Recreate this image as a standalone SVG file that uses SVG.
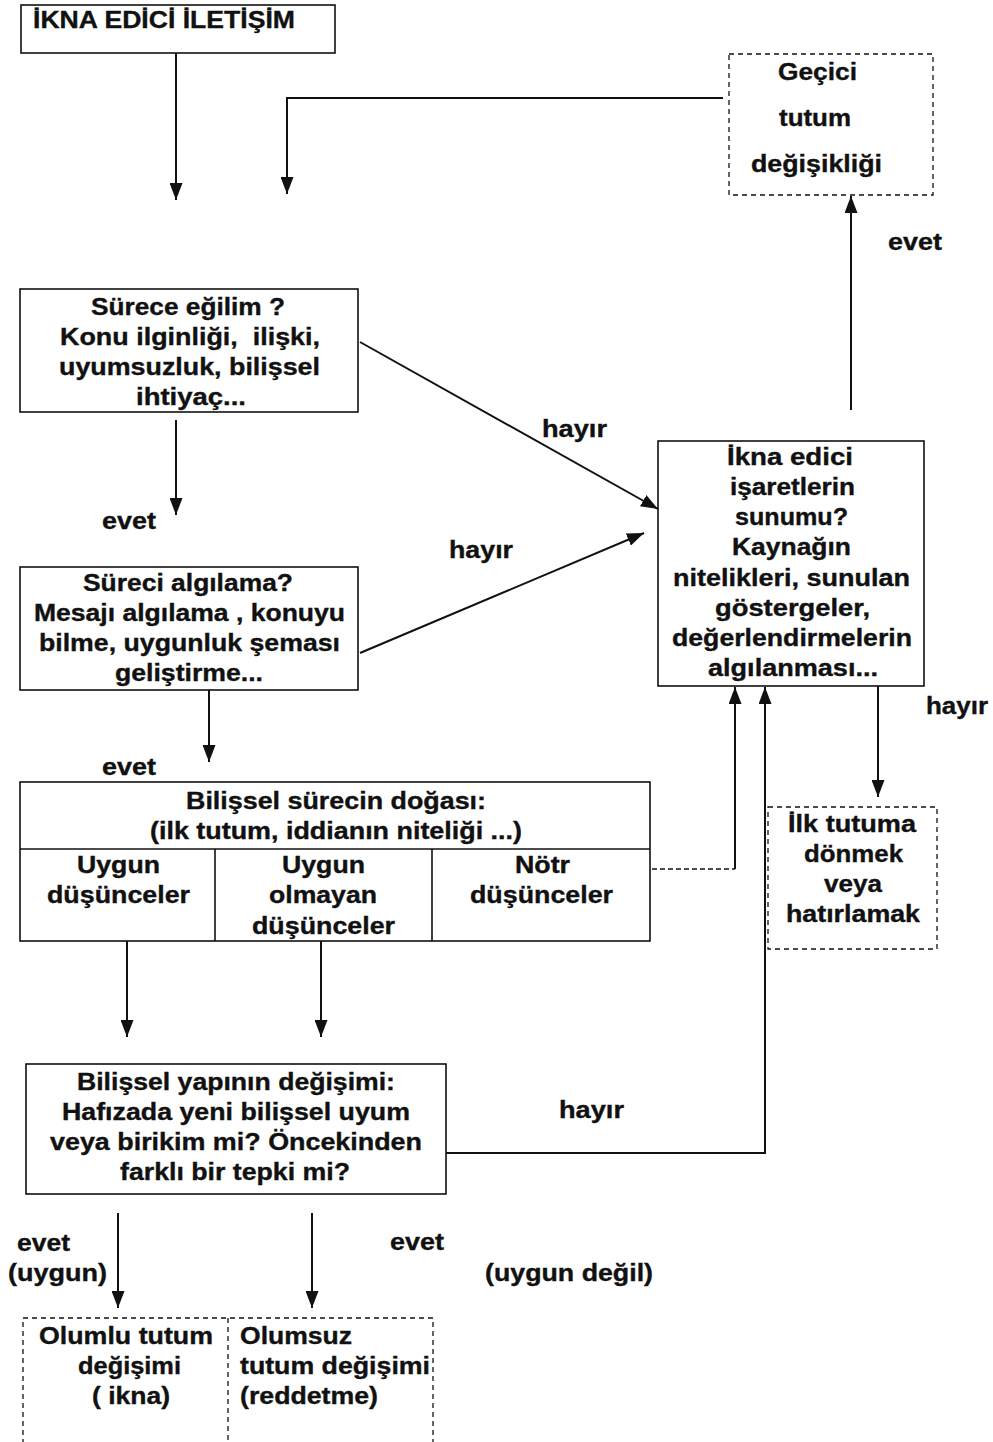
<svg xmlns="http://www.w3.org/2000/svg" width="993" height="1442" viewBox="0 0 993 1442">
<style>
text{font-family:"Liberation Sans",Arial,sans-serif;font-weight:bold;font-size:23px;fill:#111;stroke:#111;stroke-width:0.35;white-space:pre}
.box{fill:none;stroke:#111;stroke-width:1.6}
.dbox{fill:none;stroke:#111;stroke-width:1.3;stroke-dasharray:5,4}
.ln{fill:none;stroke:#111;stroke-width:2}
.dln{fill:none;stroke:#111;stroke-width:1.3;stroke-dasharray:5,3}
</style>
<defs>
<marker id="ah" viewBox="0 0 17 13" refX="17" refY="6.5" markerWidth="17" markerHeight="13" markerUnits="userSpaceOnUse" orient="auto">
<path d="M0,0 L17,6.5 L0,13 z" fill="#111"/>
</marker>
</defs>
<rect width="993" height="1442" fill="#fff"/>

<g id="n-title">
<rect class="box" x="21" y="5" width="314" height="48"/>
<text x="33" y="28" textLength="262" lengthAdjust="spacingAndGlyphs">İKNA EDİCİ İLETİŞİM</text>
</g>

<g id="n-gecici">
<rect class="dbox" x="729" y="54" width="204" height="141"/>
<text x="778" y="80" textLength="79" lengthAdjust="spacingAndGlyphs">Geçici</text>
<text x="779" y="126" textLength="72" lengthAdjust="spacingAndGlyphs">tutum</text>
<text x="751" y="172" textLength="131" lengthAdjust="spacingAndGlyphs">değişikliği</text>
</g>

<g id="n-surece">
<rect class="box" x="20" y="289" width="338" height="123"/>
<text x="91" y="315" textLength="194" lengthAdjust="spacingAndGlyphs">Sürece eğilim ?</text>
<text x="60" y="345" textLength="260" lengthAdjust="spacingAndGlyphs">Konu ilginliği,  ilişki,</text>
<text x="59" y="375" textLength="261" lengthAdjust="spacingAndGlyphs">uyumsuzluk, bilişsel</text>
<text x="136" y="405" textLength="110" lengthAdjust="spacingAndGlyphs">ihtiyaç...</text>
</g>

<g id="n-sureci">
<rect class="box" x="20" y="567" width="338" height="123"/>
<text x="83" y="591" textLength="210" lengthAdjust="spacingAndGlyphs">Süreci algılama?</text>
<text x="34" y="621" textLength="311" lengthAdjust="spacingAndGlyphs">Mesajı algılama , konuyu</text>
<text x="39" y="651" textLength="301" lengthAdjust="spacingAndGlyphs">bilme, uygunluk şeması</text>
<text x="115" y="681" textLength="148" lengthAdjust="spacingAndGlyphs">geliştirme...</text>
</g>

<g id="n-ikna">
<rect class="box" x="658" y="441" width="266" height="245"/>
<text x="727" y="465" textLength="126" lengthAdjust="spacingAndGlyphs">İkna edici</text>
<text x="730" y="495" textLength="125" lengthAdjust="spacingAndGlyphs">işaretlerin</text>
<text x="735" y="525" textLength="113" lengthAdjust="spacingAndGlyphs">sunumu?</text>
<text x="732" y="555" textLength="119" lengthAdjust="spacingAndGlyphs">Kaynağın</text>
<text x="673" y="586" textLength="237" lengthAdjust="spacingAndGlyphs">nitelikleri, sunulan</text>
<text x="715" y="616" textLength="155" lengthAdjust="spacingAndGlyphs">göstergeler,</text>
<text x="672" y="646" textLength="240" lengthAdjust="spacingAndGlyphs">değerlendirmelerin</text>
<text x="708" y="676" textLength="170" lengthAdjust="spacingAndGlyphs">algılanması...</text>
</g>

<g id="n-bilissel-surec">
<rect class="box" x="20" y="782" width="630" height="159"/>
<line class="box" x1="20" y1="849" x2="650" y2="849"/>
<line class="box" x1="215" y1="849" x2="215" y2="941"/>
<line class="box" x1="432" y1="849" x2="432" y2="941"/>
<text x="186" y="809" textLength="300" lengthAdjust="spacingAndGlyphs">Bilişsel sürecin doğası:</text>
<text x="150" y="839" textLength="372" lengthAdjust="spacingAndGlyphs">(ilk tutum, iddianın niteliği ...)</text>
<text x="77" y="873" textLength="83" lengthAdjust="spacingAndGlyphs">Uygun</text>
<text x="47" y="903" textLength="143" lengthAdjust="spacingAndGlyphs">düşünceler</text>
<text x="282" y="873" textLength="83" lengthAdjust="spacingAndGlyphs">Uygun</text>
<text x="269" y="903" textLength="108" lengthAdjust="spacingAndGlyphs">olmayan</text>
<text x="252" y="934" textLength="143" lengthAdjust="spacingAndGlyphs">düşünceler</text>
<text x="515" y="873" textLength="55" lengthAdjust="spacingAndGlyphs">Nötr</text>
<text x="470" y="903" textLength="143" lengthAdjust="spacingAndGlyphs">düşünceler</text>
</g>

<g id="n-ilk-tutum">
<rect class="dbox" x="768" y="807" width="169" height="142"/>
<text x="788" y="832" textLength="128" lengthAdjust="spacingAndGlyphs">İlk tutuma</text>
<text x="804" y="862" textLength="99" lengthAdjust="spacingAndGlyphs">dönmek</text>
<text x="824" y="892" textLength="58" lengthAdjust="spacingAndGlyphs">veya</text>
<text x="786" y="922" textLength="134" lengthAdjust="spacingAndGlyphs">hatırlamak</text>
</g>

<g id="n-bilissel-yapi">
<rect class="box" x="26" y="1064" width="420" height="130"/>
<text x="77" y="1090" textLength="318" lengthAdjust="spacingAndGlyphs">Bilişsel yapının değişimi:</text>
<text x="62" y="1120" textLength="348" lengthAdjust="spacingAndGlyphs">Hafızada yeni bilişsel uyum</text>
<text x="50" y="1150" textLength="372" lengthAdjust="spacingAndGlyphs">veya birikim mi? Öncekinden</text>
<text x="120" y="1180" textLength="230" lengthAdjust="spacingAndGlyphs">farklı bir tepki mi?</text>
</g>

<g id="n-sonuc">
<rect class="dbox" x="23" y="1318" width="410" height="130"/>
<line class="dbox" x1="228" y1="1318" x2="228" y2="1442"/>
<text x="39" y="1344" textLength="174" lengthAdjust="spacingAndGlyphs">Olumlu tutum</text>
<text x="78" y="1374" textLength="103" lengthAdjust="spacingAndGlyphs">değişimi</text>
<text x="92" y="1404" textLength="78" lengthAdjust="spacingAndGlyphs">( ikna)</text>
<text x="240" y="1344" textLength="112" lengthAdjust="spacingAndGlyphs">Olumsuz</text>
<text x="240" y="1374" textLength="190" lengthAdjust="spacingAndGlyphs">tutum değişimi</text>
<text x="240" y="1404" textLength="138" lengthAdjust="spacingAndGlyphs">(reddetme)</text>
</g>

<g id="connectors">
<path class="ln" d="M176,53 V200" marker-end="url(#ah)"/>
<path class="ln" d="M723,98 H287 V194" marker-end="url(#ah)"/>
<path class="ln" d="M851,410 V196" marker-end="url(#ah)"/>
<path class="ln" d="M176,420 V515" marker-end="url(#ah)"/>
<path class="ln" d="M360,342 L658,509" marker-end="url(#ah)"/>
<path class="ln" d="M360,653 L644,533" marker-end="url(#ah)"/>
<path class="ln" d="M209,690 V762" marker-end="url(#ah)"/>
<path class="dln" d="M652,869 H735"/>
<path class="ln" d="M735,869 V687" marker-end="url(#ah)"/>
<path class="ln" d="M446,1153 H765 V687" marker-end="url(#ah)"/>
<path class="ln" d="M878,686 V797" marker-end="url(#ah)"/>
<path class="ln" d="M127,941 V1037" marker-end="url(#ah)"/>
<path class="ln" d="M321,941 V1037" marker-end="url(#ah)"/>
<path class="ln" d="M118,1213 V1308" marker-end="url(#ah)"/>
<path class="ln" d="M312,1213 V1308" marker-end="url(#ah)"/>
</g>

<g id="labels">
<text x="888" y="250" textLength="54" lengthAdjust="spacingAndGlyphs">evet</text>
<text x="102" y="529" textLength="54" lengthAdjust="spacingAndGlyphs">evet</text>
<text x="542" y="437" textLength="65" lengthAdjust="spacingAndGlyphs">hayır</text>
<text x="449" y="558" textLength="64" lengthAdjust="spacingAndGlyphs">hayır</text>
<text x="102" y="775" textLength="54" lengthAdjust="spacingAndGlyphs">evet</text>
<text x="926" y="714" textLength="62" lengthAdjust="spacingAndGlyphs">hayır</text>
<text x="559" y="1118" textLength="65" lengthAdjust="spacingAndGlyphs">hayır</text>
<text x="17" y="1251" textLength="53" lengthAdjust="spacingAndGlyphs">evet</text>
<text x="8" y="1281" textLength="99" lengthAdjust="spacingAndGlyphs">(uygun)</text>
<text x="390" y="1250" textLength="54" lengthAdjust="spacingAndGlyphs">evet</text>
<text x="485" y="1281" textLength="168" lengthAdjust="spacingAndGlyphs">(uygun değil)</text>
</g>
</svg>
